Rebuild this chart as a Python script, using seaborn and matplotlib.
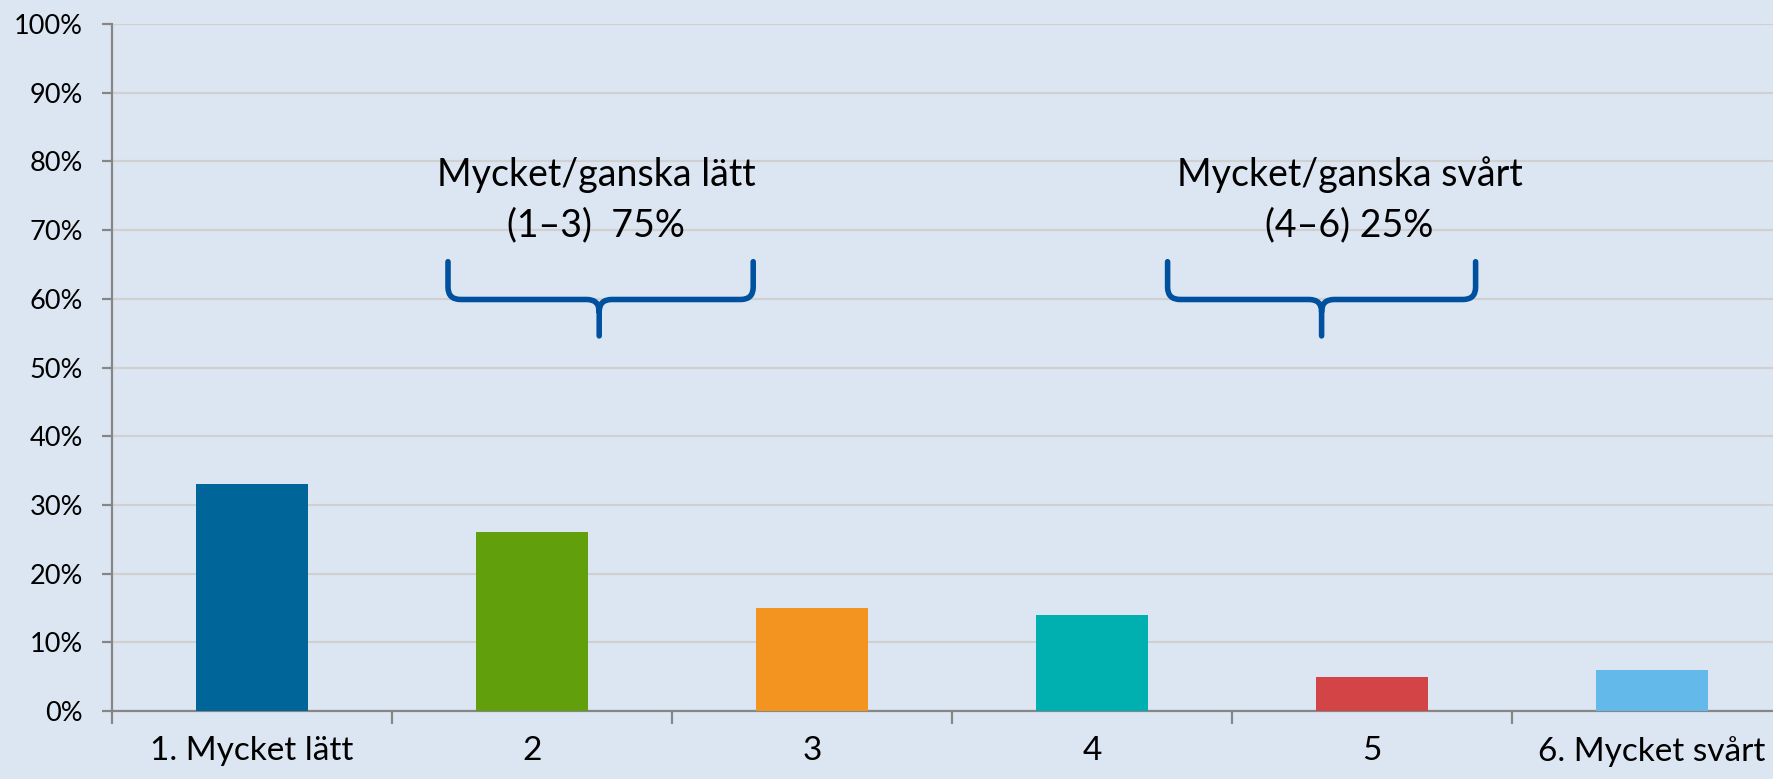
import numpy as np
import pandas as pd
import matplotlib
matplotlib.use('Agg')
import matplotlib.pyplot as plt
from matplotlib.path import Path
from matplotlib.patches import PathPatch
from matplotlib.ticker import FuncFormatter
import seaborn as sns

# data
categories = ['1. Mycket lätt', '2', '3', '4', '5', '6. Mycket svårt']
shares = [33, 26, 15, 14, 5, 6]
bar_colors = ['#006599', '#629F0C', '#F39320', '#00AFB0', '#D24445', '#64B9EB']
group_lines = [['Mycket/ganska lätt', '(1–3)  75%'],
               ['Mycket/ganska svårt', '(4–6) 25%']]

bg = '#DCE6F2'
axis_col = '#868686'
grid_col = '#D0D0D0'
brace_col = '#0050A0'

sns.set_style('white')
plt.rcParams['font.family'] = ['Lato', 'DejaVu Sans']
plt.rcParams['text.color'] = 'black'

fig = plt.figure(figsize=(17.73, 7.79), dpi=100, facecolor=bg)
ax = fig.add_axes([112 / 1773, 68 / 779, 1680 / 1773, 687 / 779])
ax.set_facecolor(bg)

df = pd.DataFrame({'cat': categories, 'val': shares})
sns.barplot(data=df, x='cat', y='val', hue='cat', palette=bar_colors,
            legend=False, width=0.4, saturation=1, linewidth=0, ax=ax, zorder=3)

ax.set_xlim(-0.5, len(categories) - 0.5)
ax.set_ylim(0, 100)
ax.set_yticks(np.arange(0, 101, 10))
ax.yaxis.set_major_formatter(FuncFormatter(lambda v, p: f'{v:.0f}%'))
ax.set_xlabel('')
ax.set_ylabel('')

ax.grid(axis='y', color=grid_col, linewidth=1.6, zorder=0)
ax.set_axisbelow(True)
for s in ['top', 'right']:
    ax.spines[s].set_visible(False)
for s in ['left', 'bottom']:
    ax.spines[s].set_color(axis_col)
    ax.spines[s].set_linewidth(1.6)

ax.tick_params(axis='y', which='major', length=7, width=1.6, color=axis_col,
               pad=14, labelsize=19.5, labelcolor='black', left=True)
ax.tick_params(axis='x', which='major', length=0, pad=18, labelsize=24,
               labelcolor='black')
ax.set_xticks(np.arange(-0.5, len(categories)), minor=True)
ax.tick_params(axis='x', which='minor', length=9, width=1.6, color=axis_col,
               bottom=True)

# braces (x in category units, y in %)
def brace(x0, x1, xm, ytop=65.4, ymid=59.9, ytip=54.6):
    rx, ry = 0.045, 1.8
    verts = [(x0, ytop), (x0, ymid + ry), (x0, ymid), (x0 + rx, ymid),
             (xm - rx, ymid), (xm, ymid), (xm, ymid - ry), (xm, ytip)]
    codes = [Path.MOVETO, Path.LINETO, Path.CURVE3, Path.CURVE3,
             Path.LINETO, Path.CURVE3, Path.CURVE3, Path.LINETO]
    verts2 = [(x1, ytop), (x1, ymid + ry), (x1, ymid), (x1 - rx, ymid),
              (xm + rx, ymid), (xm, ymid), (xm, ymid - ry)]
    codes2 = [Path.MOVETO, Path.LINETO, Path.CURVE3, Path.CURVE3,
              Path.LINETO, Path.CURVE3, Path.CURVE3]
    p = Path(verts + verts2, codes + codes2)
    ax.add_patch(PathPatch(p, facecolor='none', edgecolor=brace_col,
                           linewidth=4, capstyle='round', joinstyle='round',
                           zorder=4))

brace_spans = [(0.70, 1.79, 1.24), (3.27, 4.37, 3.82)]
text_x = [1.23, 3.92]
for (x0, x1, xm), tx, lines in zip(brace_spans, text_x, group_lines):
    brace(x0, x1, xm)
    ax.text(tx, 76.4, lines[0], ha='center', va='baseline', fontsize=27)
    ax.text(tx, 69.1, lines[1], ha='center', va='baseline', fontsize=27)

fig.savefig('out.png', dpi=100, facecolor=bg)
